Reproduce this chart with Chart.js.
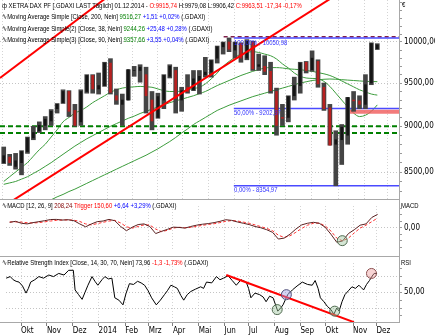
<!DOCTYPE html>
<html>
<head>
<meta charset="utf-8">
<script src="https://cdn.jsdelivr.net/npm/chart.js@4.4.0/dist/chart.umd.min.js"></script>
<style>
  body { margin: 0; background: #fff; }
  #wrap { position: relative; width: 435px; height: 335px; overflow: hidden; background: #fff; font-family: 'Liberation Sans', Arial, sans-serif; }
  canvas { position: absolute; left: 0; }
  .t { position: absolute; white-space: nowrap; font-size: 8px; line-height: 10px; transform: scaleX(0.74); transform-origin: 0 0; color: #000; }
  .fib { color: #3030ff; }
  .hl { position: absolute; background: #a8a8a8; }
  .r { color: #f00; } .g { color: #008000; } .b { color: #0000ff; } .m { color: #800000; }
</style>
</head>
<body>
<div id="wrap">
  <canvas id="mainChart" width="435" height="199" style="top:0"></canvas>
  <canvas id="macdChart" width="435" height="56" style="top:200px"></canvas>
  <canvas id="rsiChart" width="435" height="78" style="top:257px"></canvas>

  <div class="hl" style="left:399px;top:0;width:1px;height:323px"></div>
  <div class="hl" style="left:0;top:199px;width:399px;height:1px"></div>
  <div class="hl" style="left:0;top:256px;width:399px;height:1px"></div>
  <div class="hl" style="left:0;top:322px;width:399px;height:1px"></div>

  <div class="t" style="left:2px;top:1px">ф XETRA DAX PF [.GDAXI LAST Täglich] 01.12.2014 - <span class="r">O:9915,74</span> H:9979,08 L:9906,42 <span class="r">C:9963,51 -17,34 -0,17%</span></div>
  <div class="t" style="left:2px;top:12px">∿Moving Average Simple [Close, 200, Nein] <span class="g">9516,27</span> <span class="b">+1,51 +0,02%</span> (.GDAXI)</div>
  <div class="t" style="left:2px;top:24px">∿Moving Average Simple(2) [Close, 38, Nein] <span class="g">9244,26</span> <span class="b">+25,48 +0,28%</span> (.GDAXI)</div>
  <div class="t" style="left:2px;top:35px">∿Moving Average Simple(3) [Close, 90, Nein] <span class="g">9357,66</span> <span class="b">+3,55 +0,04%</span> (.GDAXI)</div>
  <div class="t fib" style="left:234px;top:38px">100,00% - 10050,98</div>
  <div class="t fib" style="left:234px;top:108px">50,00% - 9202,97</div>
  <div class="t fib" style="left:234px;top:185px">0,00% - 8354,97</div>
  <div class="t" style="left:2px;top:201px">∿MACD [12, 26, 9] <span class="m">208,24</span> <span class="r">Trigger 150,60</span> <span class="b">+6,64 +3,29%</span> (.GDAXI)</div>
  <div class="t" style="left:2px;top:258px">∿Relative Strength Index [Close, 14, 30, 70, Nein] 73,96 <span class="r">-1,3 -1,73%</span> (.GDAXI)</div>
  <div class="t" style="left:402px;top:0">€</div>
  <div class="t" style="left:401px;top:201px">MACD</div>
  <div class="t" style="left:401px;top:258px">RSI</div>
</div>

<script>
// weekly values, week 0 = Mon 16.09.2013, last week = 01.12.2014 only
const weekZero = Date.UTC(2013, 8, 16);

const priceOpen = [
  8600, 8660, 8560, 8600, 8720, 8870, 8950, 9010,
  9060, 9200, 9270, 9400, 9180, 9050, 9400, 9590,
  9430, 9470, 9740, 9350, 9250, 9300, 9650, 9650,
  9600, 9300, 9100, 9300, 9580, 9650, 9300, 9450,
  9420, 9530, 9600, 9630, 9800, 9940, 10000, 9900,
  9980, 9800, 10000, 9700, 9700, 9640, 9400, 9100,
  9100, 9350, 9470, 9750, 9660, 9760, 9450, 9210,
  8800, 8850, 8900, 9300, 9290, 9250, 9500, 9915.74
];
const priceHigh = [
  8770, 8690, 8700, 8730, 8880, 9000, 9050, 9110,
  9190, 9260, 9420, 9410, 9250, 9420, 9600, 9600,
  9620, 9750, 9794, 9430, 9370, 9660, 9700, 9720,
  9690, 9400, 9380, 9600, 9720, 9690, 9450, 9600,
  9650, 9650, 9810, 9780, 9950, 10000, 10051, 10000,
  9990, 10030, 10010, 9850, 9830, 9750, 9440, 9250,
  9350, 9570, 9750, 9760, 9890, 9780, 9500, 9250,
  8950, 9020, 9330, 9400, 9350, 9600, 9990, 9979.08
];
const priceLow = [
  8590, 8570, 8530, 8470, 8700, 8850, 8930, 8960,
  9010, 9150, 9260, 9110, 9000, 9010, 9380, 9380,
  9370, 9460, 9370, 9250, 9010, 9300, 9580, 9510,
  9150, 8960, 9090, 9200, 9560, 9150, 9170, 9380,
  9410, 9370, 9570, 9570, 9740, 9850, 9880, 9800,
  9750, 9780, 9650, 9650, 9600, 9380, 8900, 9010,
  9050, 9300, 9380, 9620, 9640, 9450, 9180, 8790,
  8355, 8580, 8800, 9170, 9200, 9200, 9480, 9906.42
];
const priceClose = [
  8675, 8600, 8620, 8720, 8870, 8930, 9010, 9080,
  9170, 9250, 9400, 9170, 9010, 9400, 9590, 9430,
  9470, 9740, 9390, 9300, 9300, 9660, 9650, 9690,
  9350, 9060, 9340, 9590, 9700, 9320, 9410, 9400,
  9550, 9580, 9630, 9770, 9940, 9990, 9910, 9990,
  9800, 10010, 9670, 9720, 9640, 9410, 9010, 9090,
  9340, 9470, 9740, 9650, 9800, 9490, 9200, 8790,
  8850, 8990, 9330, 9290, 9250, 9480, 9980, 9963.51
];

const sma200 = [
  7950, 7985, 8015, 8050, 8080, 8110, 8145, 8180,
  8210, 8240, 8265, 8295, 8320, 8350, 8380, 8410,
  8440, 8470, 8500, 8530, 8560, 8590, 8620, 8650,
  8680, 8715, 8750, 8790, 8830, 8875, 8925, 8970,
  9020, 9060, 9100, 9140, 9180, 9210, 9240, 9265,
  9290, 9315, 9340, 9360, 9380, 9400, 9420, 9440,
  9460, 9480, 9500, 9515, 9530, 9538, 9545, 9548,
  9545, 9540, 9535, 9530, 9525, 9520, 9518, 9516.27
];
const sma90 = [
  8370, 8385, 8400, 8425, 8450, 8485, 8520, 8560,
  8600, 8645, 8690, 8735, 8780, 8820, 8860, 8895,
  8930, 8965, 9000, 9030, 9060, 9090, 9115, 9145,
  9170, 9195, 9220, 9245, 9270, 9290, 9310, 9330,
  9350, 9375, 9400, 9435, 9470, 9500, 9530, 9560,
  9590, 9615, 9640, 9660, 9680, 9685, 9685, 9680,
  9670, 9665, 9660, 9650, 9640, 9625, 9610, 9590,
  9560, 9525, 9490, 9455, 9420, 9395, 9370, 9357.66
];
const sma38 = [
  8400, 8450, 8500, 8550, 8600, 8670, 8740, 8800,
  8880, 8960, 9050, 9100, 9150, 9180, 9220, 9270,
  9310, 9350, 9390, 9420, 9440, 9450, 9455, 9460,
  9455, 9450, 9430, 9410, 9400, 9400, 9405, 9420,
  9435, 9450, 9490, 9550, 9620, 9700, 9760, 9810,
  9850, 9870, 9880, 9870, 9850, 9830, 9790, 9730,
  9680, 9620, 9580, 9560, 9555, 9550, 9520, 9460,
  9380, 9300, 9220, 9150, 9110, 9125, 9170, 9244.26
];

const macd = [
  85, 100, 70, 60, 80, 95, 110, 128,
  130, 120, 125, 110, 60, 15, 60, 95,
  105, 130, 110, 20, -45, 10, 50, 60,
  20, -90, -55, -25, 10, 5, -5, 20,
  40, 55, 65, 80, 100, 125, 115, 90,
  70, 50, 20, 0, -30, -70, -175, -160,
  -100, -20, 45, 70, 85, 70, 10, -100,
  -225, -205, -90, -30, 40, 60, 160, 208.24
];
const trigger = [
  90, 92, 88, 78, 74, 80, 92, 105,
  115, 120, 122, 118, 98, 60, 45, 65,
  85, 105, 115, 75, 15, -5, 20, 45,
  42, -20, -60, -40, -5, 8, 0, 5,
  22, 38, 52, 63, 80, 100, 112, 105,
  88, 70, 45, 18, -10, -45, -115, -150,
  -125, -70, -10, 40, 70, 72, 30, -50,
  -160, -205, -160, -80, -5, 40, 95, 150.6
];

// RSI readings: position in weeks since 16.09.2013, value
const rsiAt = [
  -0.4, 0.3, 0.8, 1.3, 1.8, 2.4, 3, 3.4, 3.8, 4.5, 5.2, 6, 6.9, 7.7, 8.6, 9.5, 10.3, 11.1, 11.4, 12,
  12.6, 13.1, 13.6, 14.3, 14.8, 15.3, 16, 16.5, 17.1, 17.7, 18.2, 18.9, 19.6, 20.1, 20.7, 21.4, 22.1, 22.7, 23.3, 23.9,
  24.5, 25.3, 26, 26.7, 27.2, 27.8, 28.4, 28.9, 29.5, 30, 30.6, 31.2, 32, 32.9, 33.4, 33.9, 34.8, 35.6, 36.2, 36.8,
  37.6, 38.3, 39, 39.8, 40.7, 41.1, 41.5, 42.2, 43, 43.6, 44.1, 44.7, 45.3, 46.1, 46.6, 47, 47.8, 48.6, 49.4, 50.3,
  51.2, 52, 52.5, 53, 53.4, 54, 54.6, 55.2, 55.7, 56.2, 56.6, 57.1, 57.6, 58.2, 58.8, 59.4, 60, 60.4, 60.8, 61.3,
  61.8, 62.2, 62.6, 63.1
];
const rsiValues = [
  68, 70, 66, 64, 63, 58, 49, 55, 63, 66, 70, 68, 72, 70, 74, 72, 78, 78, 53, 47,
  41, 50, 59, 70, 64, 59, 66, 70, 67, 68, 43, 40, 34, 48, 61, 60, 64, 62, 59, 52,
  43, 34, 40, 47, 52, 59, 57, 55, 46, 40, 47, 51, 54, 57, 55, 63, 62, 70, 66, 68,
  71, 65, 59, 66, 63, 55, 43, 49, 47, 44, 38, 45, 43, 26, 30, 34, 47, 53, 58, 63,
  60, 59, 65, 55, 43, 38, 32, 28, 22, 30, 26, 38, 47, 52, 57, 55, 59, 56, 53, 60,
  65, 70, 74, 73.96
];

const monthDates = ['2013-10-01', '2013-11-01', '2013-12-02', '2014-01-02', '2014-02-03', '2014-03-03', '2014-04-01',
  '2014-05-02', '2014-06-02', '2014-07-01', '2014-08-01', '2014-09-01', '2014-10-01', '2014-11-03', '2014-12-01'];
const monthLabels = ['Okt', 'Nov', 'Dez', '2014', 'Feb', 'Mrz', 'Apr', 'Mai', 'Jun', 'Jul', 'Aug', 'Sep', 'Okt', 'Nov', 'Dez'];

const priceLabels = [8500, 9000, 9500, 10000];
const fibLevels = [10050.98, 9202.97, 8354.97];
const supportLevels = [9000, 8925];
const redZoneLevel = 9165;
const highMark = 10065;

// trendlines: [date, value]
const trendUpper = [['2013-09-13', 9560], ['2014-02-02', 10709]];
const trendLong = [['2013-09-29', 8208], ['2014-10-21', 10649]];
const trendRsi = [['2014-06-04', 72], ['2014-11-04', 12]];

const macdCircles = [['2014-10-21', -200]];
const rsiCircles = [['2014-08-04', 28, 'g'], ['2014-08-15', 47, 'b'], ['2014-10-12', 26, 'g'], ['2014-11-25', 74, 'r']];

const toWeek = d => (Date.parse(d) - weekZero) / 6048e5;
const at = i => i + 0.2;
const xMin = toWeek('2013-09-13');
const xMax = toWeek('2014-12-28');
const monthPos = monthDates.map(toWeek);
const fmt = v => v.toFixed(2).replace('.', ',');
const series = arr => arr.map((v, i) => ({ x: at(i), y: v }));
const flat = (from, level) => [{ x: from, y: level }, { x: xMax, y: level }];
const pts = arr => arr.map(p => ({ x: toWeek(p[0]), y: p[1] }));

Chart.defaults.font.family = "'Liberation Sans Narrow', 'DejaVu Sans Condensed', 'Liberation Sans', Arial";
Chart.defaults.font.size = 8;
Chart.defaults.color = '#000';

const common = {
  responsive: false,
  animation: false,
  events: [],
  layout: { padding: 0 },
  plugins: { legend: { display: false }, tooltip: { enabled: false } }
};

function xAxis(showLabels) {
  return {
    type: 'linear', min: xMin, max: xMax, offset: false,
    afterBuildTicks: s => { s.ticks = monthPos.map(v => ({ value: v })); },
    ticks: { display: showLabels, autoSkip: false, maxRotation: 0, align: 'start', padding: 0,
      callback: (v, i) => monthLabels[i] },
    grid: { color: '#d4d4d4', drawTicks: showLabels, tickLength: 4, tickColor: '#808080' },
    border: { display: false, dash: [1, 2] },
    afterFit: s => { s.height = showLabels ? 13 : 0; s.paddingLeft = 0; s.paddingRight = 0; }
  };
}

function yAxis(type, min, max, step, labelled, gridAt) {
  return {
    type: type, position: 'right', min: min, max: max,
    afterBuildTicks: s => {
      const t = [];
      for (let v = Math.ceil(min / step) * step; v <= max; v += step) t.push({ value: v });
      s.ticks = t;
    },
    ticks: { autoSkip: false, padding: 2, callback: v => labelled.includes(v) ? fmt(v) : '' },
    grid: { color: c => gridAt.includes(c.tick.value) ? '#c4c4c4' : 'transparent', tickColor: '#9a9a9a', tickLength: 3 },
    border: { display: false, dash: [1, 2] },
    afterFit: s => { s.width = 36; s.paddingTop = 0; s.paddingBottom = 0; }
  };
}

const line = (data, color, width, extra) => Object.assign({
  type: 'line', data: data, borderColor: color, borderWidth: width, pointRadius: 0, fill: false
}, extra || {});

// main price panel
new Chart(document.getElementById('mainChart'), {
  type: 'line',
  data: {
    datasets: [
      line(pts(trendUpper), '#ff0000', 2, { order: 1 }),
      line(pts(trendLong), '#ff0000', 2, { order: 1 }),
      {
        type: 'bar', order: 2, grouped: false, barThickness: 2,
        data: priceOpen.map((o, i) => ({ x: at(i), y: [o, priceClose[i]] })),
        backgroundColor: priceOpen.map((o, i) => priceClose[i] >= o ? '#151515' : '#b82020')
      },
      {
        type: 'bar', order: 3, grouped: false, barThickness: 4,
        data: priceLow.map((l, i) => ({ x: at(i), y: [l, priceHigh[i]] })),
        backgroundColor: '#444'
      },
      ...fibLevels.map(v => line(flat(toWeek('2014-06-16'), v), '#4a4aff', 1.5, { order: 4 })),
      line(flat(toWeek('2014-06-04'), highMark), '#80204a', 1.5, { order: 4, borderDash: [4, 3] }),
      line(flat(toWeek('2014-10-29'), redZoneLevel), 'rgba(240,90,90,0.8)', 4, { order: 5 }),
      ...supportLevels.map(v => line(flat(xMin, v), '#008000', 2, { order: 6, borderDash: [5, 3] })),
      line(series(sma200), '#3c9c3c', 1, { order: 7, cubicInterpolationMode: 'monotone' }),
      line(series(sma90), '#3c9c3c', 1, { order: 7, cubicInterpolationMode: 'monotone' }),
      line(series(sma38), '#3c9c3c', 1, { order: 7, cubicInterpolationMode: 'monotone' })
    ]
  },
  options: Object.assign({}, common, {
    scales: {
      x: xAxis(false),
      y: yAxis('logarithmic', 8218, 10539, 100, priceLabels, priceLabels)
    }
  })
});

const circleColors = { g: ['rgba(160,200,160,0.45)', '#506a50'], b: ['rgba(160,160,230,0.45)', '#50507a'], r: ['rgba(240,160,160,0.45)', '#8a5050'] };
const circles = (arr, r) => ({
  type: 'scatter', order: 0,
  data: arr.map(p => ({ x: toWeek(p[0]), y: p[1] })),
  pointRadius: r, pointBorderWidth: 1,
  pointBackgroundColor: arr.map(p => circleColors[p[2] || 'g'][0]),
  pointBorderColor: arr.map(p => circleColors[p[2] || 'g'][1])
});

// MACD panel
new Chart(document.getElementById('macdChart'), {
  type: 'line',
  data: {
    datasets: [
      circles(macdCircles, 5),
      line(series(macd), '#5a2020', 1, { order: 1 }),
      line(series(trigger), '#ff3030', 1, { order: 2, borderDash: [3, 2] })
    ]
  },
  options: Object.assign({}, common, {
    scales: {
      x: xAxis(false),
      y: yAxis('linear', -345, 338, 100, [0], [0])
    }
  })
});

// RSI panel
new Chart(document.getElementById('rsiChart'), {
  type: 'line',
  data: {
    datasets: [
      circles(rsiCircles, 5),
      line(pts(trendRsi), '#ff0000', 2, { order: 1 }),
      line(rsiAt.map((w, i) => ({ x: w, y: rsiValues[i] })), '#000', 1, { order: 2 })
    ]
  },
  options: Object.assign({}, common, {
    scales: {
      x: xAxis(true),
      y: yAxis('linear', 12.2, 87.3, 10, [50], [30, 50, 70])
    }
  })
});
</script>
</body>
</html>
